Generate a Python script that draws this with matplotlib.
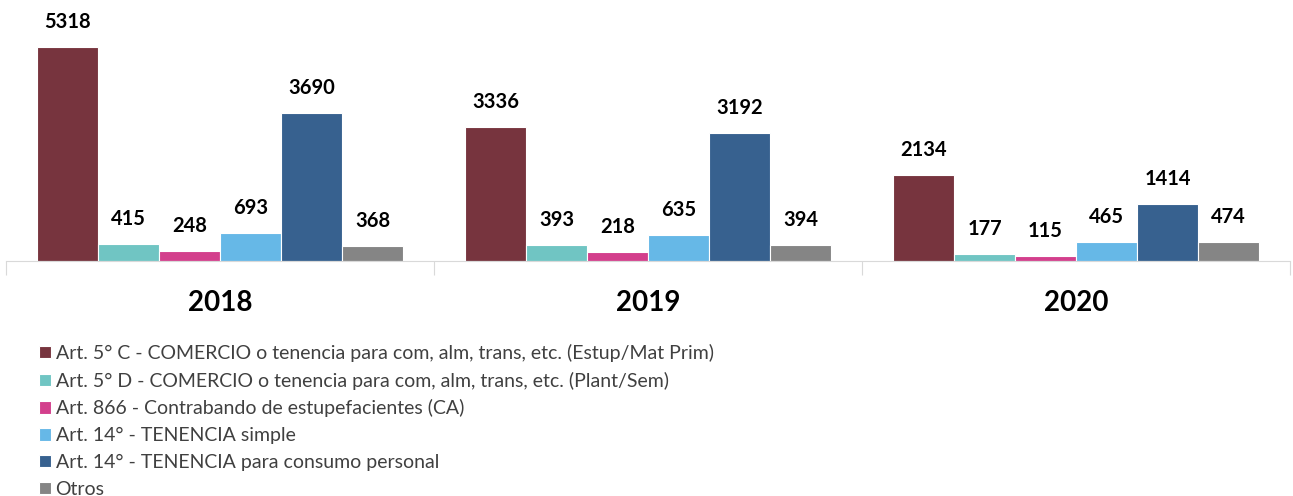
import matplotlib.pyplot as plt
import matplotlib.transforms as mtransforms
import numpy as np

plt.rcParams["font.family"] = ["Lato", "DejaVu Sans"]

years = ["2018", "2019", "2020"]
series = [
    "Art. 5° C - COMERCIO o tenencia para com, alm, trans, etc. (Estup/Mat Prim)",
    "Art. 5° D - COMERCIO o tenencia para com, alm, trans, etc. (Plant/Sem)",
    "Art. 866 - Contrabando de estupefacientes (CA)",
    "Art. 14° - TENENCIA simple",
    "Art. 14° - TENENCIA para consumo personal",
    "Otros",
]
values = [
    [5318, 3336, 2134],
    [415, 393, 177],
    [248, 218, 115],
    [693, 635, 465],
    [3690, 3192, 1414],
    [368, 394, 474],
]
colors = ["#77343E", "#70C5C3", "#D33F8C", "#66B8E7", "#37618F", "#858585"]

fig = plt.figure(figsize=(12.93, 4.96), dpi=100)
ax = fig.add_axes([6 / 1293, 1 - 261 / 496, 1284 / 1293, 251 / 496])

n = len(series)
width = 0.1425
x = np.arange(len(years))
for i, (name, vals, col) in enumerate(zip(series, values, colors)):
    pos = x + (i - (n - 1) / 2) * width
    bars = ax.bar(pos, vals, width, color=col, edgecolor="white", linewidth=0.8, label=name)
    for b, v in zip(bars, vals):
        ax.annotate(str(v), (b.get_x() + b.get_width() / 2, v), xytext=(0, 15),
                    textcoords="offset pixels", ha="center", va="bottom",
                    fontsize=14.5, fontweight="bold")

ax.set_xlim(-0.5, 2.5)
ax.set_ylim(0, 6244)
ax.set_yticks([])
for s in ["top", "right", "left"]:
    ax.spines[s].set_visible(False)
ax.spines["bottom"].set_color("#D9D9D9")
ax.set_xticks([-0.5, 0.5, 1.5, 2.5])
ax.set_xticklabels([])
ax.tick_params(axis="x", length=10, color="#D9D9D9", direction="out")

# year labels, 42 px below the baseline
shift = mtransforms.ScaledTranslation(0, -42 / 100, fig.dpi_scale_trans)
for xi, yr in zip(x, years):
    ax.text(xi, 0, yr, transform=ax.transData + shift,
            ha="center", va="center", fontsize=20, fontweight="bold")

ax.legend(loc="upper left", bbox_to_anchor=(33 / 1284, -0.33), frameon=False,
          fontsize=14, ncol=1, handlelength=0.6, handleheight=0.6,
          handletextpad=0.25, labelspacing=0.5, borderaxespad=0, borderpad=0,
          labelcolor="#404040")

fig.savefig("out.png", dpi=100)
